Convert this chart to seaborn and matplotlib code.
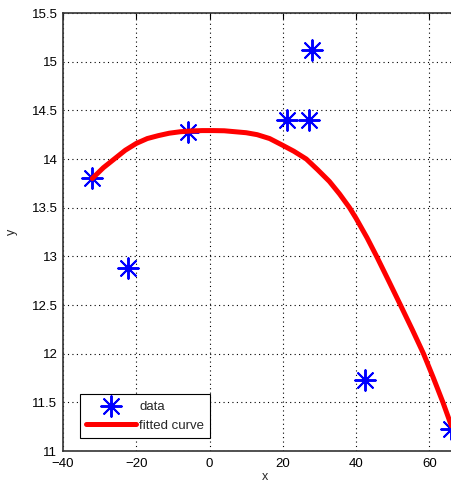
import matplotlib
matplotlib.use("Agg")
import matplotlib.pyplot as plt
import seaborn as sns
import pandas as pd

# data points
data_x = [-32.1, -22.3, -5.9, 21.1, 27.1, 27.9, 42.4, 65.8]
data_y = [13.80, 12.88, 14.28, 14.40, 14.40, 15.12, 11.73, 11.23]

# fitted curve
curve_x = [-32, -29, -26, -23, -20, -17, -14, -11, -8, -5, -2, 1, 4, 7, 10, 13, 16.4, 20,
           23, 26.4, 29.5, 32.7, 35.5, 38.2, 40, 43, 45.6, 49, 52.1, 55.3, 58.4, 61,
           63.7, 66]
curve_y = [13.80, 13.91, 14.00, 14.09, 14.16, 14.21, 14.24, 14.265, 14.28, 14.288, 14.292,
           14.292, 14.29, 14.28, 14.27, 14.25, 14.21, 14.14,
           14.08, 14.00, 13.89, 13.77, 13.64, 13.50, 13.39, 13.19, 13.00, 12.74, 12.50,
           12.25, 12.00, 11.76, 11.50, 11.26]

x_ticks = [-40, -20, 0, 20, 40, 60]
y_ticks = [11, 11.5, 12, 12.5, 13, 13.5, 14, 14.5, 15, 15.5]
y_labels = ["11", "11.5", "12", "12.5", "13", "13.5", "14", "14.5", "15", "15.5"]

sns.set_style("white")
plt.rcParams["font.family"] = ["Liberation Sans", "DejaVu Sans"]

fig = plt.figure(figsize=(4.52, 4.88), dpi=100)
W, H = 452, 488
ax = fig.add_axes([63 / W, (H - 451) / H, 403 / W, 438 / H])

df_pts = pd.DataFrame({"x": data_x, "y": data_y})
df_cur = pd.DataFrame({"x": curve_x, "y": curve_y})

sns.scatterplot(data=df_pts, x="x", y="y", ax=ax, marker=(8, 2, 0), s=220,
                color="#0000ff", edgecolor="#0000ff", linewidth=1.4, label="data",
                zorder=3, clip_on=False)
sns.lineplot(data=df_cur, x="x", y="y", ax=ax, color="#ff0000", linewidth=3.6,
             label="fitted curve", zorder=4, sort=False)

ax.set_xlim(-40, 70)
ax.set_ylim(11, 15.5)
ax.set_xticks(x_ticks)
ax.set_yticks(y_ticks)
ax.set_yticklabels(y_labels)
ax.grid(True, linestyle=(0, (1, 3)), color="black", linewidth=0.8)
ax.tick_params(direction="in", length=4, width=0.8, labelsize=9.5, colors="black",
               top=True, right=True)
ax.tick_params(axis="x", pad=5)
ax.tick_params(axis="y", pad=4)
for s in ax.spines.values():
    s.set_color("#333333")
    s.set_linewidth(1.2)
ax.set_xlabel("x", fontsize=9, labelpad=1)
ax.set_ylabel("y", fontsize=9, labelpad=10)

leg = ax.legend(loc="lower left", bbox_to_anchor=(17 / 403, 13 / 438), fontsize=9.5,
                frameon=True, fancybox=False, borderaxespad=0, handlelength=3.8,
                borderpad=0.45, labelspacing=0.55, handletextpad=0.25)
leg.get_frame().set_edgecolor("black")
leg.get_frame().set_linewidth(0.8)
leg.get_frame().set_alpha(1)

fig.savefig("out.png", dpi=100)
